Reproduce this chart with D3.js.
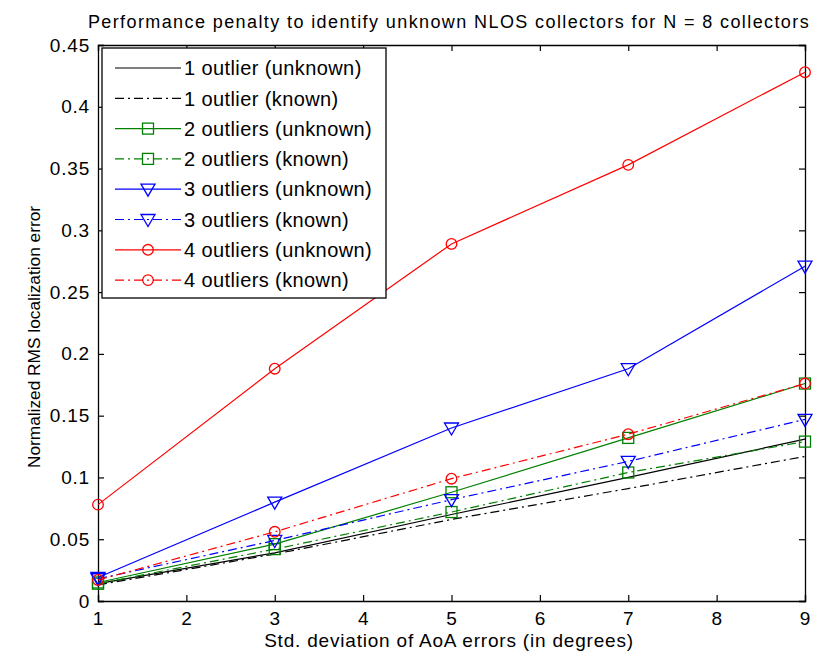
<!DOCTYPE html>
<html>
<head>
<meta charset="utf-8">
<script src="https://cdn.jsdelivr.net/npm/d3@7"></script>
<style>
  body { margin: 0; background: #fff; }
  svg { display: block; font-family: "Liberation Sans", Arial, sans-serif; }
</style>
</head>
<body>
<div id="chart"></div>
<script>
const xValues = [1, 3, 5, 7, 9];
const xTicks = [1, 2, 3, 4, 5, 6, 7, 8, 9];
const yTicks = [0, 0.05, 0.1, 0.15, 0.2, 0.25, 0.3, 0.35, 0.4, 0.45];

const oneUnknown = [0.014, 0.039, 0.070, 0.100, 0.131];
const oneKnown = [0.013, 0.038, 0.066, 0.091, 0.117];
const twoUnknown = [0.015, 0.046, 0.088, 0.132, 0.176];
const twoKnown = [0.014, 0.042, 0.072, 0.104, 0.129];
const threeUnknown = [0.019, 0.080, 0.140, 0.188, 0.271];
const threeKnown = [0.018, 0.049, 0.082, 0.113, 0.147];
const fourUnknown = [0.078, 0.188, 0.289, 0.353, 0.428];
const fourKnown = [0.017, 0.056, 0.099, 0.135, 0.176];

const series = [
    { name: '1 outlier (unknown)', values: oneUnknown, color: '#000', dash: null, marker: null },
    { name: '1 outlier (known)', values: oneKnown, color: '#000', dash: '9,4,2,4', marker: null },
    { name: '2 outliers (unknown)', values: twoUnknown, color: '#008000', dash: null, marker: 'square' },
    { name: '2 outliers (known)', values: twoKnown, color: '#008000', dash: '9,4,2,4', marker: 'square' },
    { name: '3 outliers (unknown)', values: threeUnknown, color: '#0000ff', dash: null, marker: 'triangle' },
    { name: '3 outliers (known)', values: threeKnown, color: '#0000ff', dash: '9,4,2,4', marker: 'triangle' },
    { name: '4 outliers (unknown)', values: fourUnknown, color: '#ff0000', dash: null, marker: 'circle' },
    { name: '4 outliers (known)', values: fourKnown, color: '#ff0000', dash: '9,4,2,4', marker: 'circle' }
];

const W = 821, H = 658;
const M = { left: 98, right: 15, top: 45, bottom: 57 };

const svg = d3.select('#chart').append('svg')
    .attr('width', W)
    .attr('height', H);

const x = d3.scaleLinear().domain([1, 9]).range([M.left, W - M.right - 1]);
const y = d3.scaleLinear().domain([0, 0.45]).range([H - M.bottom, M.top]);

// axes with inward ticks on all four sides
const fmt = d => (d === 0 ? '0' : String(+d.toFixed(2)));
const axisStyle = g => {
    g.select('.domain').attr('stroke', '#000').attr('stroke-width', 1.3);
    g.selectAll('.tick line').attr('stroke', '#000').attr('stroke-width', 1.2);
    g.selectAll('.tick text')
        .attr('fill', '#000')
        .attr('font-size', 19)
        .attr('letter-spacing', 0.8);
};

svg.append('g')
    .attr('transform', `translate(0,${y(0)})`)
    .call(d3.axisBottom(x).tickValues(xTicks).tickSize(-6).tickPadding(11).tickFormat(d3.format('d')))
    .call(axisStyle);
svg.append('g')
    .attr('transform', `translate(0,${y(0.45)})`)
    .call(d3.axisTop(x).tickValues(xTicks).tickSize(-6).tickFormat(''))
    .call(axisStyle);
svg.append('g')
    .attr('transform', `translate(${x(1)},0)`)
    .call(d3.axisLeft(y).tickValues(yTicks).tickSize(-6).tickPadding(8).tickFormat(fmt))
    .call(axisStyle);
svg.append('g')
    .attr('transform', `translate(${x(9)},0)`)
    .call(d3.axisRight(y).tickValues(yTicks).tickSize(-6).tickFormat(''))
    .call(axisStyle);

const line = d3.line()
    .x((d, i) => x(xValues[i]))
    .y(d => y(d));

function drawMarker(g, type, cx, cy, color) {
    if (type === 'square') {
        g.append('rect')
            .attr('x', cx - 5.5).attr('y', cy - 5.5)
            .attr('width', 11).attr('height', 11)
            .attr('fill', 'none').attr('stroke', color).attr('stroke-width', 1.3);
    } else if (type === 'triangle') {
        g.append('path')
            .attr('d', `M${cx - 7},${cy - 5}L${cx + 7},${cy - 5}L${cx},${cy + 7}Z`)
            .attr('fill', 'none').attr('stroke', color).attr('stroke-width', 1.3);
    } else if (type === 'circle') {
        g.append('circle')
            .attr('cx', cx).attr('cy', cy).attr('r', 5.3)
            .attr('fill', 'none').attr('stroke', color).attr('stroke-width', 1.3);
    }
}

const plot = svg.append('g');
series.forEach(s => {
    plot.append('path')
        .datum(s.values)
        .attr('d', line)
        .attr('fill', 'none')
        .attr('stroke', s.color)
        .attr('stroke-width', 1.2)
        .attr('stroke-dasharray', s.dash);
    if (s.marker) {
        s.values.forEach((v, i) => drawMarker(plot, s.marker, x(xValues[i]), y(v), s.color));
    }
});

// legend
const legend = svg.append('g').attr('transform', 'translate(102,48)');
legend.append('rect')
    .attr('width', 284).attr('height', 250)
    .attr('fill', '#fff').attr('stroke', '#000').attr('stroke-width', 1.3);
series.forEach((s, i) => {
    const ly = 20 + i * 30.3;
    legend.append('line')
        .attr('x1', 13).attr('x2', 79)
        .attr('y1', ly).attr('y2', ly)
        .attr('stroke', s.color)
        .attr('stroke-width', 1.2)
        .attr('stroke-dasharray', s.dash);
    if (s.marker) drawMarker(legend, s.marker, 46, ly, s.color);
    legend.append('text')
        .attr('x', 82).attr('y', ly)
        .attr('dy', '0.36em')
        .attr('font-size', 20)
        .attr('letter-spacing', 0.4)
        .attr('fill', '#000')
        .text(s.name);
});

// titles
svg.append('text')
    .attr('x', 449).attr('y', 28)
    .attr('text-anchor', 'middle')
    .attr('font-size', 18)
    .attr('letter-spacing', 1.4)
    .text('Performance penalty to identify unknown NLOS collectors for N = 8 collectors');
svg.append('text')
    .attr('x', 449).attr('y', 647)
    .attr('text-anchor', 'middle')
    .attr('font-size', 19)
    .attr('letter-spacing', 0.8)
    .text('Std. deviation of AoA errors (in degrees)');
svg.append('text')
    .attr('transform', `translate(40,337) rotate(-90)`)
    .attr('text-anchor', 'middle')
    .attr('font-size', 17.3)
    .text('Normalized RMS localization error');
</script>
</body>
</html>
